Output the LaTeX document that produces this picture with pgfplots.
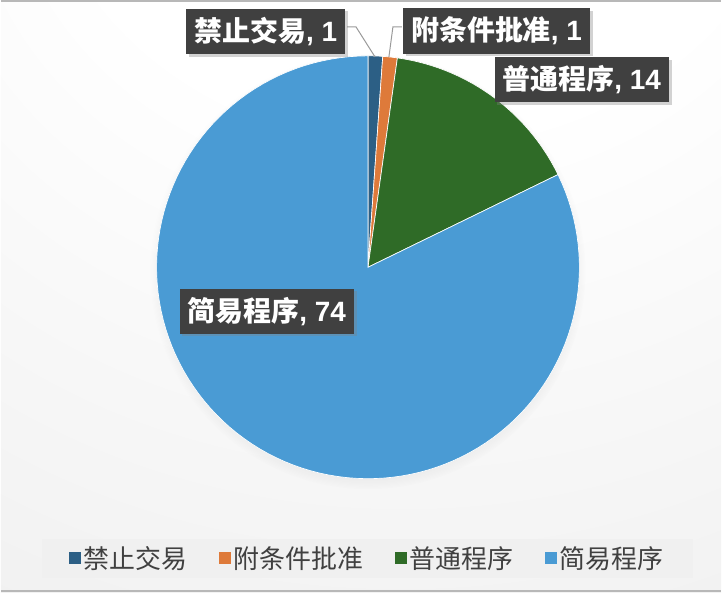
\documentclass[border=0pt]{standalone}
\usepackage{fontspec}
\setmainfont{Liberation Sans}
\newfontfamily\cjk{Noto Sans CJK SC}
\usepackage{pgfplots}
\usepackage{pgfplotstable}
\pgfplotsset{compat=1.18}
\usetikzlibrary{shadows}

\definecolor{cBan}{HTML}{2C5F85}
\definecolor{cCond}{HTML}{DE7A3A}
\definecolor{cNorm}{HTML}{2F6B27}
\definecolor{cSimp}{HTML}{4A9BD4}
\definecolor{labelbg}{HTML}{404040}
\definecolor{legtext}{HTML}{404040}
\definecolor{leader}{HTML}{9A9A9A}

\pgfdeclareradialshading{bgshade}{\pgfpoint{5bp}{50bp}}{%
  color(0bp)=(white); color(25bp)=(white); color(115bp)=(black!15)}

% pie data: label, count, colour
\pgfplotstableread[col sep=comma]{
label,value,color
禁止交易,1,cBan
附条件批准,1,cCond
普通程序,14,cNorm
简易程序,74,cSimp
}\piedata

\begin{document}
\begin{tikzpicture}[
  lbl/.style={fill=labelbg, text=white,
    font=\fontsize{21}{25}\selectfont\bfseries,
    inner xsep=6pt, inner ysep=0pt, minimum height=34pt,
    drop shadow={shadow xshift=2pt, shadow yshift=-2pt, opacity=0.35}},
]
% background (axis area is 722 x 594 units of 0.75pt)
\fill[shading=bgshade] (0,0) rectangle (541.5pt,445.5pt);
\draw[black!28, line width=1.5pt] (0,444.75pt) -- (541.5pt,444.75pt);
\draw[black!28, line width=1.5pt] (0,0.75pt) -- (541.5pt,0.75pt);

\begin{axis}[
  x=0.75pt, y=0.75pt,
  xmin=0, xmax=722, ymin=0, ymax=594,
  hide axis, clip=false,
  legend columns=4,
  legend image code/.code={\fill[#1, draw=none] (-2pt,-4.5pt) rectangle (7pt,4.5pt);},
  legend style={
    at={(axis cs:367.5,34)}, anchor=center,
    draw=none, fill=black!6,
    font=\fontsize{19.5}{22}\selectfont, text=legtext,
    inner xsep=20pt, inner ysep=3.5pt,
    /tikz/every even column/.append style={column sep=22pt},
  },
]
% soft shadow under the pie
\path[circular drop shadow={shadow scale=1.03, shadow xshift=0pt, shadow yshift=-3pt, opacity=0.22}]
  (axis cs:368,326) circle[radius=159pt];

\pgfplotstablegetrowsof{\piedata}
\pgfmathtruncatemacro\lastrow{\pgfplotsretval-1}
\def\total{0}
\pgfplotsforeachungrouped \i in {0,...,\lastrow}{%
  \pgfplotstablegetelem{\i}{value}\of\piedata
  \pgfmathsetmacro\total{\total+\pgfplotsretval}%
}
\def\cum{0}
\pgfplotsforeachungrouped \i in {0,...,\lastrow}{%
  \pgfplotstablegetelem{\i}{value}\of\piedata \let\val\pgfplotsretval
  \pgfplotstablegetelem{\i}{color}\of\piedata \let\col\pgfplotsretval
  \pgfplotstablegetelem{\i}{label}\of\piedata \let\lab\pgfplotsretval
  \pgfmathsetmacro\aStart{90-\cum/\total*360}%
  \pgfmathsetmacro\cum{\cum+\val}%
  \pgfmathsetmacro\aEnd{90-\cum/\total*360}%
  \edef\doslice{%
    \noexpand\addplot[fill=\col, draw=white, line width=0.5pt,
      domain=\aEnd:\aStart, samples=120]
      ({368+212*cos(x)},{326+212*sin(x)}) -- (axis cs:368,326) -- cycle;
    \noexpand\addlegendentry{\noexpand\cjk \lab}}%
  \doslice
}

% leader lines
\draw[leader, line width=0.75pt] (axis cs:347,567) -- (axis cs:356,567) -- (axis cs:375,537);
\draw[leader, line width=0.75pt] (axis cs:402,567) -- (axis cs:393,567) -- (axis cs:389,537);

% data labels
\node[lbl] at (axis cs:265.5,562.5) {{\cjk 禁止交易}, 1};
\node[lbl] at (axis cs:497,563) {{\cjk 附条件批准}, 1};
\node[lbl] at (axis cs:582.5,514) {{\cjk 普通程序}, 14};
\node[lbl] at (axis cs:266.5,282) {{\cjk 简易程序}, 74};
\end{axis}
\end{tikzpicture}
\end{document}
